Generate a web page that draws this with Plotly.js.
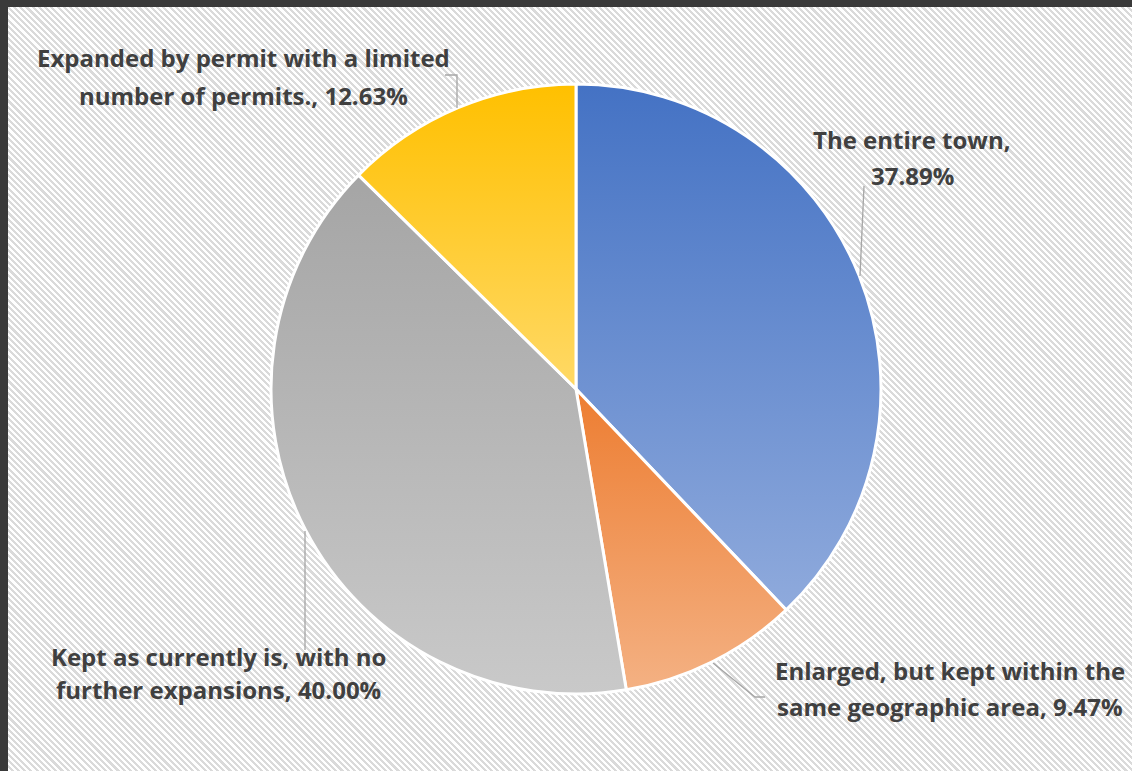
<!DOCTYPE html>
<html>
<head>
<meta charset="utf-8">
<script src="https://cdn.plot.ly/plotly-3.0.1.min.js"></script>
<style>
  html, body { margin: 0; padding: 0; width: 1132px; height: 771px; overflow: hidden; background: #3a3a3a; }
  #bg { position: absolute; left: 8px; top: 7px; width: 1124px; height: 764px;
        background: repeating-linear-gradient(45deg, #ffffff 0px, #ffffff 2.2px, #dadada 2.2px, #dadada 4.4px); }
  #chart { position: absolute; left: 0; top: 0; width: 1132px; height: 771px; }
</style>
</head>
<body>
<div id="bg"></div>
<div id="chart"></div>
<script>
// ---- data ----
const categories = [
  "The entire town",
  "Enlarged, but kept within the same geographic area",
  "Kept as currently is, with no further expansions",
  "Expanded by permit with a limited number of permits."
];
const values = [37.89, 9.47, 40.00, 12.63];
const labelLines = [
  ["The entire town,", "37.89%"],
  ["Enlarged, but kept within the", "same geographic area, 9.47%"],
  ["Kept as currently is, with no", "further expansions, 40.00%"],
  ["Expanded by permit with a limited", "number of permits., 12.63%"]
];
const baseColors = ["#6589cf", "#f09a5c", "#b5b5b5", "#ffcc33"];
const gradTop = ["#4472c4", "#ed7d31", "#a5a5a5", "#ffc000"];
const gradBottom = ["#8faadc", "#f4b183", "#c9c9c9", "#ffd966"];

// ---- layout helpers (pixel -> paper) ----
const W = 1132, H = 771;
const px = x => x / W;
const py = y => 1 - y / H;

// label x centre and y of each text line (pixels)
const labelX = [912, 950, 218, 243];
const labelY = [[139, 176], [670, 706], [656, 689], [58, 95]];
const leaders = [
  [[864, 186], [860, 276]],
  [[713, 663], [755, 697], [765, 697]],
  [[305, 531], [305, 650]],
  [[445, 75], [457, 75], [457, 108]]
];

const annotations = [];
labelLines.forEach((lines, i) => {
  lines.forEach((line, j) => {
    annotations.push({
      xref: "paper", yref: "paper",
      x: px(labelX[i]), y: py(labelY[i][j]),
      xanchor: "center", yanchor: "middle", align: "center",
      showarrow: false,
      text: line,
      font: { family: "'Open Sans', sans-serif", size: 24, color: "#404040", weight: 700 }
    });
  });
});

const shapes = leaders.map(pts => ({
  type: "path", xref: "paper", yref: "paper",
  path: pts.map((p, j) => (j ? "L" : "M") + px(p[0]) + "," + py(p[1])).join(" "),
  line: { color: "#a6a6a6", width: 1.3 }
}));

const cx = 576, cy = 389, r = 305;
const trace = {
  type: "pie",
  labels: categories,
  values: values,
  sort: false,
  direction: "clockwise",
  rotation: 0,
  textinfo: "none",
  hoverinfo: "none",
  marker: { colors: baseColors, line: { color: "#ffffff", width: 3 } },
  domain: { x: [px(cx - r), px(cx + r)], y: [py(cy + r), py(cy - r)] },
  showlegend: false
};

const layout = {
  width: W, height: H,
  margin: { l: 0, r: 0, t: 0, b: 0 },
  paper_bgcolor: "rgba(0,0,0,0)",
  plot_bgcolor: "rgba(0,0,0,0)",
  annotations: annotations,
  shapes: shapes
};

Plotly.newPlot("chart", [trace], layout, { staticPlot: true }).then(gd => {
  // apply vertical gradients to each slice
  const svg = gd.querySelector("svg.main-svg");
  const ns = "http://www.w3.org/2000/svg";
  let defs = svg.querySelector("defs");
  if (!defs) { defs = document.createElementNS(ns, "defs"); svg.insertBefore(defs, svg.firstChild); }
  gradTop.forEach((c, i) => {
    const g = document.createElementNS(ns, "linearGradient");
    g.setAttribute("id", "sliceGrad" + i);
    g.setAttribute("x1", "0"); g.setAttribute("y1", "0");
    g.setAttribute("x2", "0"); g.setAttribute("y2", "1");
    const s1 = document.createElementNS(ns, "stop");
    s1.setAttribute("offset", "0"); s1.setAttribute("stop-color", c);
    const s2 = document.createElementNS(ns, "stop");
    s2.setAttribute("offset", "1"); s2.setAttribute("stop-color", gradBottom[i]);
    g.appendChild(s1); g.appendChild(s2);
    defs.appendChild(g);
  });
  gd.querySelectorAll("g.slice").forEach((sl, i) => {
    const p = sl.querySelector("path.surface");
    if (p) p.style.fill = "url(#sliceGrad" + i + ")";
  });
});
</script>
</body>
</html>
